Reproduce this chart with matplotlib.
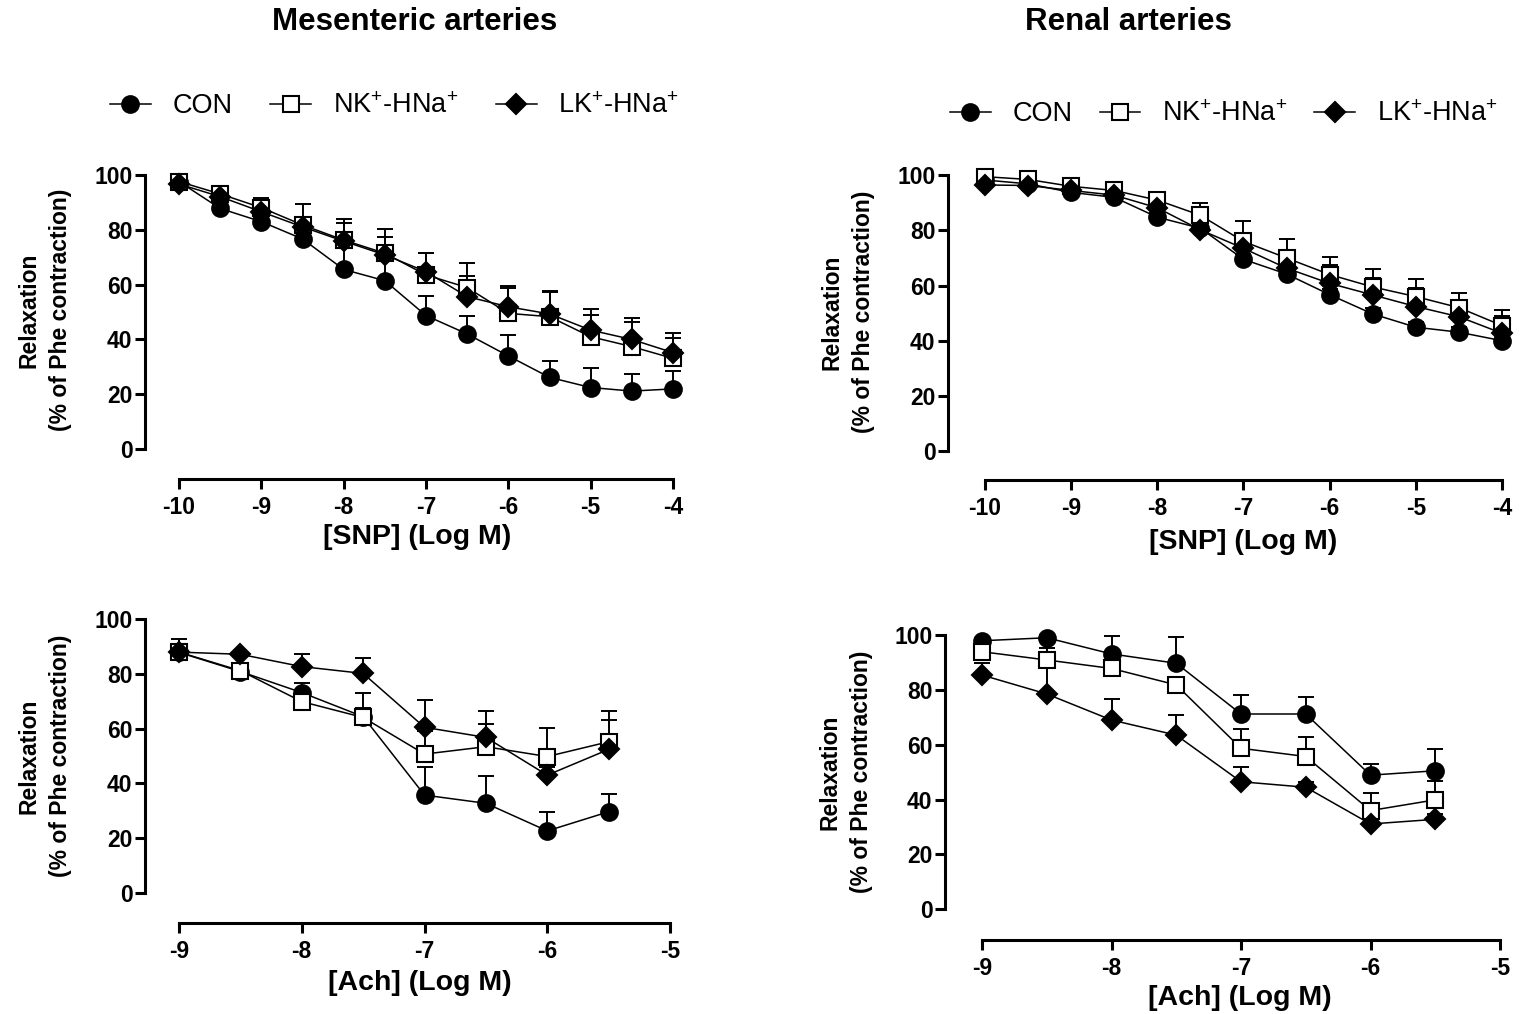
import numpy as np
import matplotlib
matplotlib.use("Agg")
import matplotlib.pyplot as plt
from matplotlib.lines import Line2D

plt.rcParams['font.family'] = ['Liberation Sans', 'DejaVu Sans']
plt.rcParams['mathtext.fontset'] = 'custom'
plt.rcParams['mathtext.rm'] = 'Liberation Sans'
plt.rcParams['mathtext.default'] = 'regular'

W, H = 1525, 1014

# ---- data ----
snp_x = [-10, -9.5, -9, -8.5, -8, -7.5, -7, -6.5, -6, -5.5, -5, -4.5, -4]
ach_x = [-9, -8.5, -8, -7.5, -7, -6.5, -6, -5.5]

mes_snp_con = [97.5, 87.7, 82.9, 76.6, 65.5, 61.4, 48.7, 42.0, 34.0, 26.2, 22.5, 21.2, 22.0]
mes_snp_con_err = [1, 1.5, 1.5, 2, 8, 9, 7.2, 6.7, 7.7, 5.8, 7.0, 6.1, 6.5]
mes_snp_nk = [97.5, 93, 88, 81.7, 76.2, 71.4, 63.5, 58.9, 49.5, 48.3, 41, 37.4, 33.1]
mes_snp_nk_err = [1.5, 1.5, 3.4, 7.5, 7.7, 8.7, 8, 8.8, 10, 9, 10, 10.5, 9.4]
mes_snp_lk = [96.6, 92.0, 86.5, 81, 75.8, 70.8, 64.7, 55.6, 51.9, 49.3, 43.4, 40, 35.2]
mes_snp_lk_err = [1, 1.5, 3.7, 3, 6.5, 6.6, 6.7, 7.6, 6.7, 8.2, 5.5, 6.2, 5.2]

ren_snp_con = [98.3, 96.9, 93.8, 92, 84.8, 80.8, 69.5, 64.2, 56.7, 49.7, 44.9, 43.1, 40.0]
ren_snp_con_err = [1, 1, 1, 1, 1.5, 2, 2, 2, 2, 2, 2, 2, 2]
ren_snp_nk = [99.5, 98.5, 96, 94.5, 91, 85.5, 76, 70, 64, 59.5, 56, 52, 45.5]
ren_snp_nk_err = [1, 1, 1, 1, 1.5, 4.5, 7.5, 6.9, 6.5, 6.5, 6.4, 5.2, 5.6]
ren_snp_lk = [96.5, 96.3, 94.5, 92.8, 88.2, 80.2, 73.5, 66.3, 60.8, 56.6, 52.4, 48.7, 42.7]
ren_snp_lk_err = [1, 1, 1, 1, 2, 2, 4.3, 6.6, 6.7, 6, 6.6, 5.5, 6.3]

mes_ach_con = [87.9, 80.9, 73.2, 64.4, 35.7, 32.7, 22.6, 29.6]
mes_ach_con_err = [4.8, 1, 3.4, 3, 10.3, 10, 7, 6.4]
mes_ach_nk = [88, 81.2, 69.9, 64.1, 50.7, 53.4, 49.8, 55.2]
mes_ach_nk_err = [2, 1, 2, 9.1, 8.3, 8.4, 10.3, 7.9]
mes_ach_lk = [88, 87.2, 82.7, 80.2, 60.5, 56.8, 43, 52.4]
mes_ach_lk_err = [2, 1, 4.6, 5.8, 10, 9.7, 3, 14.1]

ren_ach_con = [97.9, 99, 93.1, 89.7, 71.2, 71.2, 48.9, 50.5]
ren_ach_con_err = [1, 1, 6.5, 9.7, 6.9, 6.3, 4, 7.9]
ren_ach_nk = [93.9, 90.9, 87.8, 81.8, 58.7, 55.7, 36, 39.9]
ren_ach_nk_err = [2, 4.5, 2, 2, 7, 7, 6.3, 7]
ren_ach_lk = [85.4, 78.5, 69, 63.5, 46.5, 44.5, 31.1, 32.8]
ren_ach_lk_err = [4.5, 9.3, 7.5, 7.3, 5.5, 2, 2, 2]

labels = ['CON', 'NK$^{+}$-HNa$^{+}$', 'LK$^{+}$-HNa$^{+}$']
styles = [dict(marker='o', ms=12, mfc='black'),
          dict(marker='s', ms=11, mfc='white'),
          dict(marker='D', ms=10, mfc='black')]

fig = plt.figure(figsize=(W / 100, H / 100), dpi=100)


def make_axes(spine_px, tick0_px, tick1_px, x0, x1, y100_px, y0_px, xaxis_px):
    # place axes in pixel coords so that spine, ticks and data line up
    ppu_x = (tick1_px - tick0_px) / (x1 - x0)
    xmin = x0 - (tick0_px - spine_px) / ppu_x
    ppu_y = (y0_px - y100_px) / 100.0
    ymin = -(xaxis_px - y0_px) / ppu_y
    ax = fig.add_axes([spine_px / W, 1 - xaxis_px / H,
                       (tick1_px - spine_px) / W, (xaxis_px - y100_px) / H])
    ax.set_xlim(xmin, x1)
    ax.set_ylim(ymin, 100)
    for s in ['top', 'right']:
        ax.spines[s].set_visible(False)
    ax.spines['left'].set_bounds(0, 100)
    ax.spines['bottom'].set_bounds(x0, x1)
    for s in ['left', 'bottom']:
        ax.spines[s].set_linewidth(2.2)
    ax.set_yticks([0, 20, 40, 60, 80, 100])
    ax.set_xticks(np.arange(x0, x1 + 0.5, 1))
    ax.set_xticklabels([str(int(v)) for v in np.arange(x0, x1 + 0.5, 1)])
    ax.tick_params(direction='out', length=7, width=2.2, labelsize=16.5)
    ax.tick_params(axis='x', pad=5)
    ax.tick_params(axis='y', pad=2)
    for lbl in ax.get_xticklabels() + ax.get_yticklabels():
        lbl.set_fontweight('bold')
    ax.patch.set_visible(False)
    return ax


def draw(ax, x, series):
    for (y, err), st in zip(series, styles):
        ax.errorbar(x, y, yerr=[np.zeros(len(err)), err], fmt='none', ecolor='black',
                    elinewidth=1.4, capsize=5.5, capthick=1.4, zorder=2, clip_on=False)
    for (y, err), st in zip(series, styles):
        ax.plot(x, y, color='black', lw=1.1, mec='black', mew=1.5, zorder=3,
                clip_on=False, **st)


ax1 = make_axes(145, 179, 673, -10, -4, 174.7, 449.3, 479)
draw(ax1, snp_x, [(mes_snp_con, mes_snp_con_err), (mes_snp_nk, mes_snp_nk_err),
                  (mes_snp_lk, mes_snp_lk_err)])

ax2 = make_axes(948, 985, 1502, -10, -4, 175.3, 451, 480)
draw(ax2, snp_x, [(ren_snp_con, ren_snp_con_err), (ren_snp_nk, ren_snp_nk_err),
                  (ren_snp_lk, ren_snp_lk_err)])

ax3 = make_axes(145, 179, 670, -9, -5, 619.3, 892.7, 923)
draw(ax3, ach_x, [(mes_ach_con, mes_ach_con_err), (mes_ach_nk, mes_ach_nk_err),
                  (mes_ach_lk, mes_ach_lk_err)])

ax4 = make_axes(945, 982, 1500, -9, -5, 635, 909.3, 940)
draw(ax4, ach_x, [(ren_ach_con, ren_ach_con_err), (ren_ach_nk, ren_ach_nk_err),
                  (ren_ach_lk, ren_ach_lk_err)])


def ftext(xp, yp, s, **kw):
    fig.text(xp / W, 1 - yp / H, s, **kw)


# titles
ftext(415, 22, 'Mesenteric arteries', ha='center', va='center', fontsize=22.5, weight='bold')
ftext(1128, 22, 'Renal arteries', ha='center', va='center', fontsize=22.5, weight='bold')

# y labels
ylab = 'Relaxation\n(% of Phe contraction)'
for xp, yp in [(45, 310), (848, 312), (45, 756), (846, 772)]:
    ftext(xp, yp, ylab, rotation=90, ha='center', va='center', ma='center',
          fontsize=16.5, weight='bold', linespacing=1.45)

# x labels
ftext(417, 537, '[SNP] (Log M)', ha='center', va='center', fontsize=20.5, weight='bold')
ftext(1243, 542, '[SNP] (Log M)', ha='center', va='center', fontsize=20.5, weight='bold')
ftext(420, 983, '[Ach] (Log M)', ha='center', va='center', fontsize=20.5, weight='bold')
ftext(1240, 998, '[Ach] (Log M)', ha='center', va='center', fontsize=20.5, weight='bold')

# legends
handles = [Line2D([], [], color='black', lw=1.1, mec='black', mew=1.5, **st) for st in styles]
fig.legend(handles, labels, loc='center left', bbox_to_anchor=(110 / W, 1 - 106 / H),
           ncol=3, frameon=False, handlelength=1.5, handletextpad=0.8, columnspacing=1.4,
           borderpad=0, borderaxespad=0, prop={'family': 'Liberation Sans', 'size': 19.5})
fig.legend(handles, labels, loc='center left', bbox_to_anchor=(950 / W, 1 - 114 / H),
           ncol=3, frameon=False, handlelength=1.5, handletextpad=0.8, columnspacing=1.0,
           borderpad=0, borderaxespad=0, prop={'family': 'Liberation Sans', 'size': 19.5})

fig.savefig('out.png', dpi=100)
